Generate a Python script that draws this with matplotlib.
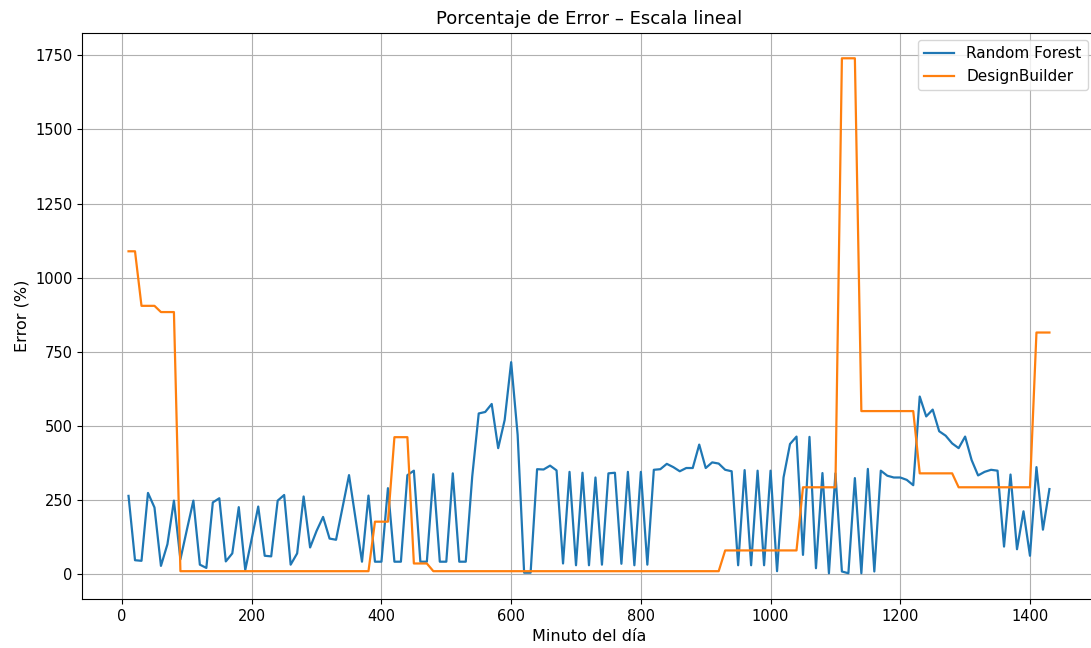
import numpy as np
import matplotlib
matplotlib.use("Agg")
import matplotlib.pyplot as plt

# minute of the day (every 10 min)
minutes = np.arange(10, 1440, 10)

# error (%)
rf_error = [
    264, 47, 45, 274, 225, 28, 101, 248, 50, 150,
    248, 32, 21, 242, 256, 43, 70, 226, 14, 120,
    228, 62, 60, 248, 267, 32, 70, 262, 90, 146,
    193, 120, 116, 225, 334, 188, 42, 265, 42, 42,
    290, 42, 42, 334, 349, 42, 42, 337, 42, 42,
    340, 42, 42, 330, 542, 547, 574, 425, 520, 715,
    470, 5, 5, 354, 353, 366, 350, 36, 345, 30,
    342, 30, 326, 32, 340, 342, 35, 345, 30, 345,
    32, 352, 354, 372, 361, 347, 358, 358, 437, 358,
    377, 373, 352, 347, 30, 351, 30, 349, 30, 349,
    10, 326, 439, 464, 65, 463, 20, 341, 3, 340,
    9, 3, 324, 3, 355, 9, 349, 332, 326, 326,
    318, 300, 599, 532, 555, 482, 467, 441, 425, 464,
    385, 333, 345, 352, 349, 93, 336, 84, 212, 62,
    361, 150, 287,
]

db_error = [
    1089, 1089, 905, 905, 905, 884, 884, 884, 10, 10,
    10, 10, 10, 10, 10, 10, 10, 10, 10, 10,
    10, 10, 10, 10, 10, 10, 10, 10, 10, 10,
    10, 10, 10, 10, 10, 10, 10, 10, 177, 177,
    177, 462, 462, 462, 36, 36, 36, 10, 10, 10,
    10, 10, 10, 10, 10, 10, 10, 10, 10, 10,
    10, 10, 10, 10, 10, 10, 10, 10, 10, 10,
    10, 10, 10, 10, 10, 10, 10, 10, 10, 10,
    10, 10, 10, 10, 10, 10, 10, 10, 10, 10,
    10, 10, 80, 80, 80, 80, 80, 80, 80, 80,
    80, 80, 80, 80, 293, 293, 293, 293, 293, 293,
    1740, 1740, 1740, 550, 550, 550, 550, 550, 550, 550,
    550, 550, 340, 340, 340, 340, 340, 340, 293, 293,
    293, 293, 293, 293, 293, 293, 293, 293, 293, 293,
    815, 815, 815,
]

fig = plt.figure(figsize=(10.91, 6.48), dpi=100)
# the original picture is cropped on the right, so the axes run past the edge
ax = fig.add_axes([0.0756, 0.0756, 0.9285, 0.8742])

ax.plot(minutes, rf_error, label='Random Forest', linewidth=1.6)
ax.plot(minutes, db_error, label='DesignBuilder', linewidth=1.6)

ax.set_title('Porcentaje de Error – Escala lineal', fontsize=13)
ax.set_xlabel('Minuto del día', fontsize=11.5)
ax.set_ylabel('Error (%)', fontsize=11.5)
ax.tick_params(labelsize=10.5)
ax.legend(loc='upper right', fontsize=11)
ax.grid(True)

fig.savefig('out.png', dpi=100)
